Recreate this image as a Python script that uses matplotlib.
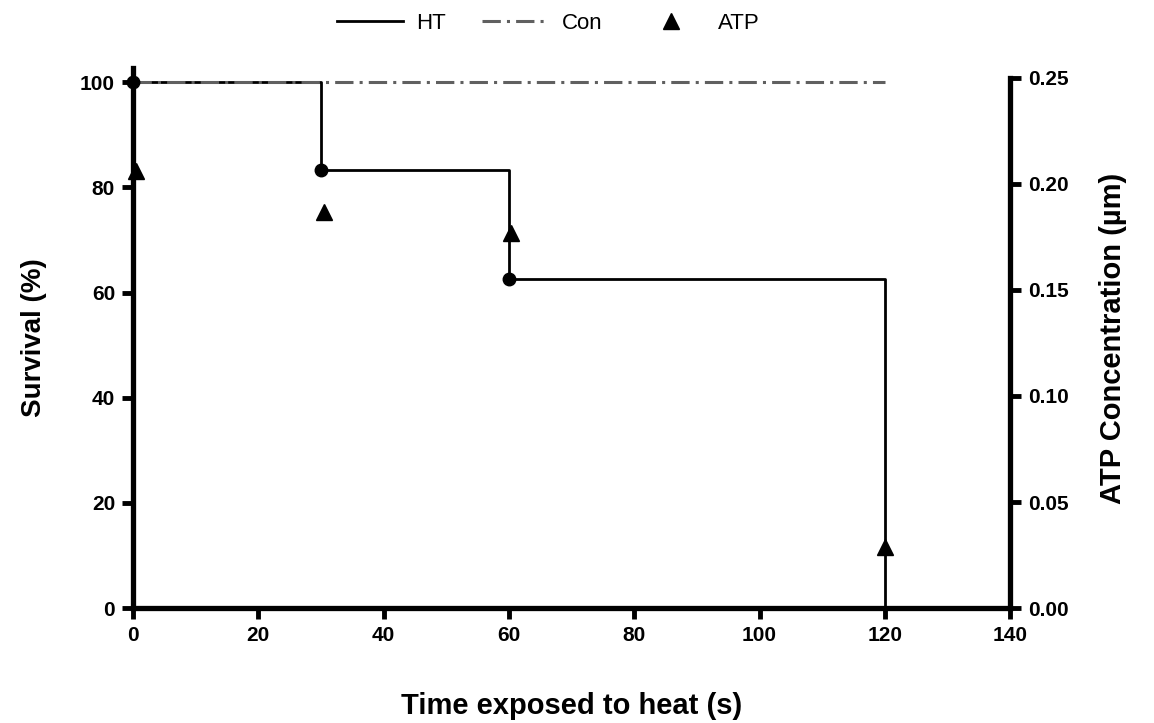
import numpy as np
import matplotlib.pyplot as plt

# survival data (Kaplan-Meier style steps)
time_ht = [0, 30, 60, 120]
surv_ht = [100, 83.3, 62.5, 0]
time_con = [0, 120]
surv_con = [100, 100]

# ATP concentration (right axis)
time_atp = [0.5, 30.5, 60.3, 120]
atp = [0.206, 0.187, 0.177, 0.029]

xticks = [0, 20, 40, 60, 80, 100, 120, 140]
yticks_left = [0, 20, 40, 60, 80, 100]
yticks_right = [0.00, 0.05, 0.10, 0.15, 0.20, 0.25]

plt.rcParams['font.family'] = ['Liberation Sans', 'DejaVu Sans']

fig = plt.figure(figsize=(11.54, 7.23), dpi=100)
ax = fig.add_axes([0.1153, 0.159, 0.760, 0.747])

# HT step line
ax.step(time_ht, surv_ht, where='post', color='black', lw=2, label='HT', zorder=3)
ax.plot(time_ht[:3], surv_ht[:3], 'o', color='black', ms=9, zorder=6, clip_on=False)
# Con line
ax.plot(time_con, surv_con, color='#606060', lw=2.2, ls=(0, (6, 2, 1, 2)), label='Con', zorder=4)

ax.set_xlim(0, 140)
ax.set_ylim(0, 102.7)
ax.set_xticks(xticks)
ax.set_yticks(yticks_left)

ax2 = ax.twinx()
ax2.plot(time_atp, atp, '^', color='black', ms=12, label='ATP', zorder=5, clip_on=False)
ax2.set_ylim(0, 0.2547)
ax2.set_yticks(yticks_right)
ax2.set_yticklabels(['%.2f' % v for v in yticks_right])
ax2.spines['right'].set_bounds(0, 0.25)

for a in (ax, ax2):
    for s in a.spines.values():
        s.set_linewidth(3.8)
    a.spines['top'].set_visible(False)
    a.tick_params(width=3.5, length=8, labelsize=15, pad=5)
    for lab in a.get_xticklabels() + a.get_yticklabels():
        lab.set_fontweight('bold')
ax2.spines['left'].set_visible(False)
ax2.spines['bottom'].set_visible(False)
ax.spines['right'].set_visible(False)

ax.set_xlabel('Time exposed to heat (s)', fontsize=21, fontweight='bold', labelpad=34)
ax.set_ylabel('Survival (%)', fontsize=20, fontweight='bold', labelpad=24)
ax2.set_ylabel('ATP Concentration (\u00b5m)', fontsize=21, fontweight='bold', labelpad=22)

h1, l1 = ax.get_legend_handles_labels()
h2, l2 = ax2.get_legend_handles_labels()
fig.legend(h1 + h2, l1 + l2, loc='upper center', bbox_to_anchor=(0.475, 1.01), ncol=3,
           frameon=False, fontsize=16, handlelength=3, handletextpad=0.6, columnspacing=1.6)

plt.savefig('out.png', dpi=100)
